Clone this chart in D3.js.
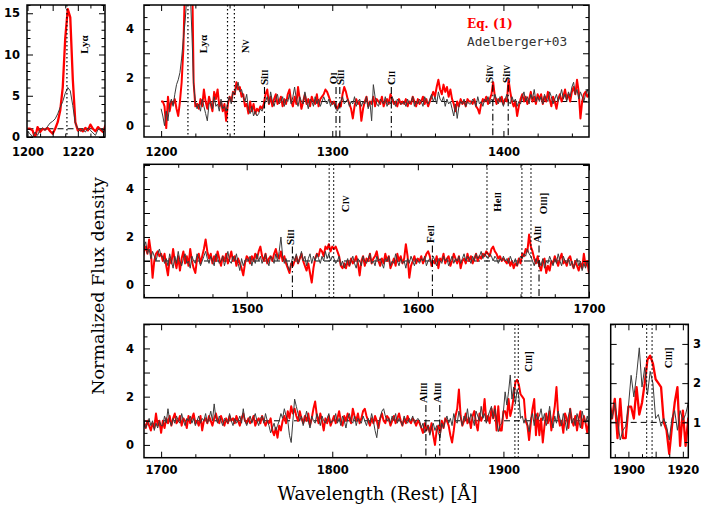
<!DOCTYPE html>
<html><head><meta charset="utf-8">
<script src="https://cdn.jsdelivr.net/npm/d3@7"></script>
<style>body{margin:0;background:#fff}svg{display:block}</style>
</head><body>
<script>
// ---------- DATA ----------
// Composite spectra sampled every 1 Å
const startA = 1200, startB = 1451, startC = 1701;
const redA = [
1.0,1.0,0.8,-0.1,1.2,0.6,1.0,0.9,1.1,0.7,
0.4,1.0,1.8,3.2,6.0,12.0,15.5,14.5,7.0,1.8,
0.8,
0.9,0.7,1.1,0.8,1.5,1.0,0.7,1.2,0.9,0.6,
1.4,1.1,1.5,0.8,1.0,0.6,0.9,0.2,0.9,1.2,
1.0,1.4,1.3,1.8,1.5,1.6,1.2,1.3,0.8,0.9,
0.5,1.0,0.6,0.9,0.5,0.7,0.6,0.8,0.7,0.9,
1.3,1.5,0.9,1.2,0.8,1.1,1.3,0.9,1.0,1.2,
0.8,1.1,0.9,1.3,1.5,1.0,0.8,1.2,0.9,1.6,
1.1,0.7,1.0,1.3,0.9,1.1,0.8,1.2,1.0,0.9,
1.3,0.8,1.1,1.2,1.3,1.5,1.4,1.2,1.0,0.9,
1.0,0.8,0.7,0.9,0.8,1.3,1.6,1.4,1.1,0.9,
0.7,0.3,0.8,1.1,0.9,1.0,0.2,0.7,1.0,1.2,
0.8,1.0,0.9,1.2,0.8,1.1,1.0,0.9,1.2,0.8,
1.0,1.1,0.9,1.3,1.1,0.9,1.0,0.8,1.1,0.9,
1.0,0.9,1.1,0.8,1.0,0.9,1.2,1.0,0.8,1.1,
0.9,1.0,1.2,0.9,1.1,0.8,1.0,1.2,1.4,1.2,
1.6,1.9,1.5,1.3,1.7,1.4,1.6,1.2,1.5,1.1,
0.9,0.6,1.0,0.8,1.1,0.9,1.0,0.8,1.1,1.0,
1.0,0.9,1.1,0.8,0.7,0.5,0.9,1.1,1.0,1.2,
0.9,1.1,1.3,1.8,1.2,0.9,1.1,1.0,1.2,0.9,
1.1,1.0,1.9,1.4,1.0,0.8,1.0,0.4,0.8,1.1,
1.3,1.0,1.2,0.9,1.1,1.4,1.0,1.2,0.9,1.3,
1.1,1.3,0.9,1.2,1.0,1.4,1.1,0.8,1.2,1.0,
0.7,1.1,1.3,1.0,1.2,1.5,1.1,1.3,1.0,1.4,
1.6,1.3,1.9,1.4,0.3,1.0,1.3,1.4,1.2,1.3];
const grayA = [
0.7,0.4,0.0,0.6,0.2,0.9,1.1,0.8,1.3,1.7,
1.9,2.2,2.8,3.6,4.3,5.3,6.0,5.6,3.8,1.7,
1.0,
0.7,0.9,0.6,1.1,0.8,0.5,0.2,0.9,1.0,0.7,
1.2,0.8,0.9,0.6,1.1,0.7,0.8,0.6,1.0,1.2,
0.9,1.4,1.3,1.6,1.8,1.4,1.5,1.2,1.0,1.3,
0.7,0.5,0.8,0.4,0.6,0.4,0.5,0.7,0.6,0.8,
1.0,1.2,0.9,1.4,1.0,0.8,1.1,1.3,0.9,1.0,
1.2,0.8,1.1,1.0,1.3,0.9,1.2,1.6,1.1,0.8,
1.2,1.0,0.9,1.4,1.0,0.7,1.1,1.0,0.8,1.2,
0.9,1.1,0.8,1.0,1.2,1.0,0.9,1.1,0.8,1.0,
0.9,0.7,0.6,0.8,1.0,1.2,0.9,1.0,1.1,0.8,
1.0,0.9,1.2,0.8,1.0,1.1,0.8,1.0,0.9,1.2,
0.7,1.0,0.2,1.7,1.2,0.9,0.8,1.1,1.0,0.9,
1.2,0.8,1.0,0.9,1.2,1.0,0.8,1.1,1.0,0.9,
0.9,1.0,0.8,1.1,0.9,1.0,1.2,0.8,1.0,0.9,
1.1,1.0,0.8,1.2,1.0,0.9,1.1,1.3,1.0,1.2,
0.9,1.4,1.1,1.0,1.2,0.8,1.1,0.9,1.0,0.7,
0.4,0.9,0.3,0.8,1.0,0.9,1.1,0.8,1.0,0.9,
0.9,1.1,1.0,0.8,1.2,0.9,1.0,0.8,1.1,1.0,
1.2,0.9,1.1,1.0,1.3,1.1,0.9,1.2,1.0,0.8,
1.1,1.3,1.0,0.9,1.2,1.0,1.1,0.8,1.0,0.9,
1.2,1.4,1.0,1.2,0.9,1.3,1.1,1.5,1.0,1.2,
1.0,1.2,0.9,1.3,1.1,1.0,1.4,1.2,0.9,1.1,
1.3,1.0,1.2,1.5,1.1,1.3,1.0,1.4,1.2,1.6,
1.8,1.3,1.5,1.1,1.4,1.2,1.0,1.3,1.5,1.2];
const redB = [
1.0,1.3,0.8,0.4,1.1,0.9,1.5,1.0,0.7,1.2,
0.6,1.1,1.4,0.9,1.2,0.8,1.5,1.0,0.7,0.5,
1.1,1.3,0.9,1.2,1.5,1.9,1.4,1.1,1.3,0.9,
1.2,1.0,1.4,1.1,0.8,1.2,1.0,1.3,0.9,1.1,
1.4,1.0,1.2,0.8,1.1,0.9,0.7,0.4,0.9,1.2,
1.1,0.9,1.2,1.0,1.3,1.1,1.4,1.6,1.2,1.0,
1.3,0.9,1.1,1.2,1.0,1.3,1.5,1.2,1.1,1.4,
1.0,1.2,0.9,0.7,0.5,0.9,0.8,1.0,1.2,0.9,
1.1,1.3,1.0,0.8,0.6,0.9,0.5,0.1,0.7,1.1,
1.3,1.2,1.5,1.4,1.2,1.6,1.5,1.7,1.4,1.6,
1.5,1.6,1.4,1.2,0.8,0.7,0.9,0.7,1.0,0.8,
1.1,0.9,1.0,1.2,0.9,0.4,1.0,1.2,0.8,1.1,
1.0,1.3,0.9,1.1,1.2,1.4,1.0,0.8,1.1,0.9,
1.3,1.0,1.2,0.7,0.9,1.1,0.8,1.3,1.0,1.2,
0.9,1.1,1.7,1.2,0.3,0.8,1.0,1.2,0.9,1.1,
1.0,1.2,0.9,1.1,1.3,1.4,1.2,0.8,1.0,0.9,
1.2,0.7,1.1,1.0,1.3,0.9,1.1,1.2,0.8,1.0,
1.3,1.1,0.9,1.2,0.7,1.0,1.1,0.9,1.3,1.0,
1.2,0.9,1.1,1.3,1.0,1.2,1.1,1.3,1.2,1.4,
1.3,1.2,1.5,1.6,1.4,1.3,1.1,1.2,1.0,1.1,
1.0,0.9,1.1,0.8,1.0,0.7,0.9,0.8,1.1,0.9,
1.3,1.2,1.5,1.4,2.1,1.6,1.4,1.1,0.9,1.2,
0.8,0.6,1.0,1.1,0.5,0.8,0.6,1.0,0.9,1.2,
1.0,0.8,1.1,1.3,0.9,1.0,0.8,1.1,1.2,0.9,
0.7,1.0,0.8,0.6,0.9,0.7,1.3,0.8,1.0,0.5];
const grayB = [
1.2,0.9,1.1,0.8,1.3,1.0,0.7,1.2,0.9,1.4,
1.0,0.8,1.1,1.3,0.9,1.0,0.7,1.2,1.0,0.9,
1.3,1.1,0.8,1.0,1.2,1.4,1.1,0.9,1.2,1.0,
0.8,1.3,1.1,0.9,1.0,1.2,0.8,1.1,1.4,1.0,
0.9,1.2,1.0,1.3,0.9,0.6,1.1,0.8,1.0,1.1,
1.0,1.2,0.8,1.1,0.9,1.3,1.0,1.2,0.9,1.1,
1.3,1.0,0.8,1.2,1.1,0.9,1.3,1.0,1.4,2.0,
1.2,0.9,1.1,0.8,0.6,0.9,1.2,1.0,1.3,0.9,
1.1,1.4,1.0,1.2,0.8,1.1,1.3,0.9,1.2,1.0,
1.3,1.1,0.9,1.2,1.0,1.4,1.1,1.3,1.0,1.2,
1.1,0.9,1.0,1.2,0.8,1.0,0.7,0.9,1.1,0.8,
1.0,1.2,0.9,0.7,1.1,1.0,0.8,1.2,1.0,0.9,
1.1,1.3,0.9,1.0,0.8,1.2,1.0,1.1,0.9,0.7,
1.1,1.0,1.2,0.8,1.0,0.9,1.3,1.0,0.8,1.1,
0.9,1.0,0.7,1.1,0.9,1.2,1.0,0.8,1.1,1.0,
0.9,1.1,1.0,1.2,0.8,1.0,1.1,0.9,1.2,1.0,
0.8,1.1,1.0,0.9,1.2,1.0,1.1,0.8,1.0,1.2,
0.9,1.1,1.0,1.2,0.9,1.1,1.3,1.0,1.2,1.1,
0.9,1.2,1.0,1.3,1.1,1.2,1.4,1.1,1.3,1.2,
1.1,1.3,1.2,1.0,1.2,1.1,0.9,1.1,1.0,1.2,
1.0,1.1,0.9,1.2,1.0,0.9,1.1,0.8,1.0,1.2,
1.1,1.3,1.2,1.5,1.3,1.2,1.0,0.8,1.1,0.9,
1.0,0.8,1.1,0.7,1.0,0.9,1.2,1.0,0.8,1.1,
0.9,1.3,1.0,0.8,1.2,1.0,0.9,1.1,0.8,1.0,
0.7,0.9,1.1,0.8,1.0,0.6,0.9,0.7,1.0,0.8];
const redC = [
1.0,0.7,1.1,0.9,1.2,0.8,1.1,1.3,0.9,1.0,
1.2,0.8,1.1,1.0,0.7,1.2,0.9,1.1,1.3,0.9,
1.0,0.8,1.2,0.6,1.0,1.1,0.9,1.2,1.0,0.8,
1.1,1.3,1.0,0.9,1.2,1.0,0.8,1.1,0.9,1.2,
1.0,1.1,0.9,1.2,1.0,0.8,1.1,1.3,1.0,0.9,
1.1,0.9,1.0,1.2,0.8,1.0,1.1,0.9,1.2,1.0,
0.8,1.0,0.9,1.1,0.6,0.4,0.7,0.3,0.8,0.6,
1.0,1.2,0.9,1.4,1.1,1.6,1.3,1.5,1.2,1.0,
1.4,1.1,0.9,1.2,1.0,1.3,0.8,1.1,1.5,1.8,
1.2,0.9,1.3,1.0,0.6,1.1,0.9,1.2,0.8,1.0,
1.2,0.9,1.1,1.4,1.0,0.8,1.2,1.0,1.3,1.1,
0.9,1.5,1.2,1.0,1.3,0.9,1.1,1.4,1.5,1.2,
1.0,0.8,1.1,0.9,1.2,1.0,0.7,1.1,1.3,1.0,
0.9,1.2,1.1,0.8,1.0,1.2,0.9,1.1,1.3,1.0,
0.8,1.1,0.9,1.2,1.0,0.9,1.1,1.0,0.8,1.0,
0.9,0.7,0.5,0.9,0.6,0.8,0.5,0.9,0.4,0.0,
0.6,0.8,0.5,1.0,0.7,1.1,1.0,0.8,0.4,0.1,
0.6,1.2,1.5,2.3,1.2,0.8,1.0,1.3,0.9,1.1,
0.7,1.2,1.4,0.9,0.6,1.3,1.0,1.2,1.9,1.0,
1.2,0.9,
1.5,1.1,1.6,0.6,1.6,0.6,0.6,1.4,1.4,1.1,
1.9,1.2,1.5,2.0,2.6,2.7,2.5,2.1,2.0,1.9,
1.0,0.8,0.2,0.9,1.5,1.9,0.4,1.3,0.4,1.1,
0.1,0.8,1.3,0.9,1.4,0.6,1.1,1.6,2.4,1.2,
0.8,1.0,0.5,1.3,1.1,0.7,1.5,1.0,0.8,1.2,
0.6,1.1,1.4,0.7,1.2,0.9,0.5,1.0];
const grayC = [
0.8,1.2,0.9,1.5,1.0,0.8,1.1,0.9,1.2,1.0,
0.9,1.3,1.0,0.8,1.1,1.0,1.2,0.9,1.1,0.8,
1.0,1.2,0.9,1.1,1.0,1.3,0.9,1.1,1.4,1.0,
1.7,1.1,0.9,1.2,1.0,0.8,1.1,1.0,0.9,1.3,
1.0,0.8,1.1,0.9,1.0,1.2,0.9,1.5,1.0,0.8,
1.0,1.2,0.9,1.1,1.3,1.0,0.8,1.1,1.2,0.9,
1.3,1.0,0.8,0.5,0.7,0.9,0.6,0.8,1.0,1.3,
1.1,1.5,1.2,1.0,0.4,0.1,1.0,1.9,1.6,1.3,
1.0,1.2,0.8,1.1,1.4,1.0,0.7,1.2,1.0,0.9,
1.3,1.1,0.8,1.2,1.0,0.9,1.1,1.3,0.9,1.0,
1.0,1.3,0.9,1.1,0.8,1.2,1.0,0.7,1.1,1.3,
1.0,0.9,1.2,0.8,1.1,1.0,0.9,1.2,1.0,0.8,
1.1,0.9,1.3,1.0,0.6,0.3,0.9,1.1,1.4,1.5,
1.2,1.0,1.1,0.9,1.2,1.0,1.3,0.9,1.1,1.0,
0.8,1.2,1.0,0.9,1.1,1.0,1.2,0.9,1.0,1.1,
1.0,0.7,0.9,0.5,0.6,0.8,0.4,0.7,0.9,0.6,
0.8,0.5,0.3,0.9,0.7,1.0,1.2,0.9,1.1,0.8,
1.3,1.0,0.9,1.4,1.1,0.8,1.2,1.0,1.5,0.9,
1.3,1.1,0.8,1.4,1.2,1.0,1.6,1.1,1.3,0.9,
1.2,1.4,
1.6,1.1,1.5,1.05,0.55,0.8,0.9,1.4,2.2,1.65,
2.2,2.9,1.9,2.4,1.7,2.3,2.0,1.1,1.2,0.9,
1.1,0.9,0.55,1.1,1.3,0.8,1.3,1.05,1.2,1.5,
1.0,1.3,0.8,1.1,1.6,1.0,0.7,1.2,0.9,1.4,
1.1,0.8,1.3,1.0,0.6,1.2,1.5,0.9,1.1,0.8,
1.3,1.0,0.7,1.4,1.1,0.9,1.2,0.8];

// Line identifications (rest wavelengths, Å)
const emissionLines = [1215.67, 1238.8, 1242.8, 1548.2, 1550.8, 1640.4, 1660.8, 1666.1, 1906.7, 1908.7];
const absorptionLines = [1260.4, 1302.2, 1304.4, 1334.5, 1393.8, 1402.8, 1526.7, 1608.5, 1670.8, 1854.7, 1862.8];
const absorptionTop   = [1.6, 1.6, 1.6, 1.6, 1.7, 1.7, 1.6, 1.65, 1.65, 1.65, 1.65];
const labelPanel = ['lya','p1','p1','p1','p1','p1','p1','p1','p1','p2','p2','p2','p2','p2','p2','p3','p3','p3','c3'];
const labelMain  = ['Lyα','Lyα','N','Si','O','Si','C','Si','Si','Si','C','Fe','He','O','Al','Al','Al','C','C'];
const labelIon   = ['','','V','II','I','II','II','IV','IV','II','IV','II','II','III','II','III','III','III','III'];
const labelTail  = ['','','','','','','','','','','','','',']','','','',']',']'];
const labelWave  = [1222.4,1224.6,1249.0,1260.1,1300.6,1304.7,1334.2,1391.8,1401.6,1525.4,1557.5,1607.3,1646.6,1673.2,1669.6,1853.0,1861.2,1914.7,1914.5];
const labelLevel = [10.1,3.0,3.0,1.68,1.72,1.68,1.68,1.77,1.77,1.67,3.03,1.75,3.05,2.95,1.75,1.74,1.74,3.02,2.38];
const legendNames = ['Eq. (1)', 'Adelberger+03'];

// ---------- BUILD ----------
function toPts(start, arr){ return arr.map((v,i)=>({w:start+i, v:v})); }
const redSpec  = toPts(startA, redA).concat(toPts(startB, redB), toPts(startC, redC));
const graySpec = toPts(startA, grayA).concat(toPts(startB, grayB), toPts(startC, grayC));

const svg = d3.select('body').append('svg').attr('width',706).attr('height',506);

const panels = [
 {id:'lya', x0:27, x1:105, y0:5, y1:137, xd:[1199.8,1230.8], yd:[0,16],
  xMinor:5, xMajor:10, xLab:20, yMinor:1, yMajor:5, yLab:5, side:'left', xpad:10.5, ypad:7, lw:2.3},
 {id:'p1', x0:144, x1:589, y0:5, y1:137, xd:[1190,1450], yd:[-0.47,5.0],
  xMinor:20, xMajor:100, xLab:100, yMinor:0.5, yMajor:1, yLab:2, side:'left', xpad:10.5, ypad:10, lw:2},
 {id:'p2', x0:144, x1:589, y0:164.3, y1:297.7, xd:[1440,1700], yd:[-0.53,5.03],
  xMinor:20, xMajor:100, xLab:100, yMinor:0.5, yMajor:1, yLab:2, side:'left', xpad:6.8, ypad:10, lw:2},
 {id:'p3', x0:144, x1:589, y0:324.3, y1:457.7, xd:[1690,1950], yd:[-0.53,5.0],
  xMinor:20, xMajor:100, xLab:100, yMinor:0.5, yMajor:1, yLab:2, side:'left', xpad:7.8, ypad:10, lw:2},
 {id:'c3', x0:610.7, x1:688.3, y0:324.3, y1:457.7, xd:[1893.5,1922], yd:[0.1,3.5],
  xMinor:5, xMajor:10, xLab:20, yMinor:0.5, yMajor:1, yLab:1, side:'right', xpad:7.8, ypad:4.7, lw:2.3}
];

function rng(d, step){ const a=Math.ceil(d[0]/step-1e-9)*step; return d3.range(a, d[1]+1e-9, step).map(v=>+v.toFixed(4)); }
function isMult(v, s){ return Math.abs(v/s - Math.round(v/s)) < 1e-6; }

panels.forEach(P => {
  const x = d3.scaleLinear().domain(P.xd).range([P.x0, P.x1]);
  const y = d3.scaleLinear().domain(P.yd).range([P.y1, P.y0]);
  const g = svg.append('g');
  const cid = 'clip-' + P.id;
  g.append('clipPath').attr('id', cid).append('rect')
    .attr('x', P.x0).attr('y', P.y0).attr('width', P.x1-P.x0).attr('height', P.y1-P.y0);
  const inner = g.append('g').attr('clip-path', `url(#${cid})`);

  // continuum level
  const c0 = Math.max(P.xd[0], 1200);
  inner.append('line').attr('x1', x(c0)).attr('x2', x(P.xd[1])).attr('y1', y(1)).attr('y2', y(1))
    .attr('stroke', '#000').attr('stroke-width', 1).attr('stroke-dasharray', '6,4');

  // spectra
  const line = d3.line().x(d=>x(d.w)).y(d=>y(d.v));
  const inR = d => d.w >= P.xd[0]-2 && d.w <= P.xd[1]+2;
  inner.append('path').datum(redSpec.filter(inR)).attr('d', line)
    .attr('fill','none').attr('stroke','#ff0000').attr('stroke-width',P.lw).attr('stroke-linejoin','round');
  inner.append('path').datum(graySpec.filter(inR)).attr('d', line)
    .attr('fill','none').attr('stroke','#3c3c3c').attr('stroke-width',1).attr('stroke-linejoin','round');

  // emission lines (dotted)
  emissionLines.filter(w => w > P.xd[0] && w < P.xd[1]).forEach(w => {
    inner.append('line').attr('x1', x(w)).attr('x2', x(w)).attr('y1', P.y0).attr('y2', P.y1)
      .attr('stroke','#000').attr('stroke-width',1.2).attr('stroke-dasharray','1.5,2.5');
  });
  // absorption lines (dash-dot)
  absorptionLines.forEach((w,i) => {
    if (w <= P.xd[0] || w >= P.xd[1] || P.id==='lya' || P.id==='c3') return;
    inner.append('line').attr('x1', x(w)).attr('x2', x(w)).attr('y1', y(absorptionTop[i])).attr('y2', P.y1)
      .attr('stroke','#000').attr('stroke-width',1.1).attr('stroke-dasharray','7,3,1.5,3');
  });

  // line labels
  labelPanel.forEach((p,i) => {
    if (p !== P.id) return;
    const t = g.append('text')
      .attr('transform', `translate(${x(labelWave[i])},${y(labelLevel[i])}) rotate(-90)`)
      .attr('dy','0.35em').attr('font-family','Liberation Serif, serif').attr('font-weight','bold')
      .attr('font-size', 11).attr('fill','#000');
    t.append('tspan').text(labelMain[i]);
    if (labelIon[i]) t.append('tspan').attr('font-size', 8).text(labelIon[i]);
    if (labelTail[i]) t.append('tspan').text(labelTail[i]);
  });

  // frame
  g.append('rect').attr('x', P.x0).attr('y', P.y0).attr('width', P.x1-P.x0).attr('height', P.y1-P.y0)
    .attr('fill','none').attr('stroke','#000').attr('stroke-width',1.5);

  // axes (inward ticks)
  function ax(gen, scale, vals, size, fmt, pad, tr){
    const a = gen(scale).tickValues(vals).tickSize(size).tickPadding(pad).tickFormat(fmt);
    const ag = g.append('g').attr('transform', tr).call(a);
    ag.select('.domain').remove();
    ag.selectAll('line').attr('stroke','#000').attr('stroke-width',1);
    ag.attr('font-family','DejaVu Sans, sans-serif').attr('font-size',11.5).attr('font-weight','bold');
    ag.selectAll('text').attr('fill','#000');
  }
  const xMin = rng(P.xd, P.xMinor).filter(v => !isMult(v, P.xMajor));
  const xMaj = rng(P.xd, P.xMajor);
  const yMin = rng(P.yd, P.yMinor).filter(v => !isMult(v, P.yMajor));
  const yMaj = rng(P.yd, P.yMajor);
  const none = () => '';
  const xfmt = d => isMult(d, P.xLab) ? d3.format('d')(d) : '';
  const yfmt = d => isMult(d, P.yLab) ? d3.format('d')(d) : '';
  ax(d3.axisBottom, x, xMin, -3.5, none, 0, `translate(0,${P.y1})`);
  ax(d3.axisBottom, x, xMaj, -6, xfmt, P.xpad, `translate(0,${P.y1})`);
  ax(d3.axisTop, x, xMin, -3.5, none, 0, `translate(0,${P.y0})`);
  ax(d3.axisTop, x, xMaj, -6, none, 0, `translate(0,${P.y0})`);
  ax(d3.axisLeft, y, yMin, -3.5, none, 0, `translate(${P.x0},0)`);
  ax(d3.axisLeft, y, yMaj, -6, P.side==='left' ? yfmt : none, P.ypad, `translate(${P.x0},0)`);
  ax(d3.axisRight, y, yMin, -3.5, none, 0, `translate(${P.x1},0)`);
  ax(d3.axisRight, y, yMaj, -6, P.side==='right' ? yfmt : none, P.ypad, `translate(${P.x1},0)`);
});

// legend
svg.append('text').attr('x',467).attr('y',28).attr('font-family','DejaVu Serif, serif')
  .attr('font-weight','bold').attr('font-size',12).attr('fill','#ff0000').text(legendNames[0]);
svg.append('text').attr('x',467).attr('y',46).attr('font-family','DejaVu Sans Mono, monospace')
  .attr('font-size',12.8).attr('fill','#333').text(legendNames[1]);

// axis titles
svg.append('text').attr('transform','translate(104,286) rotate(-90)').attr('text-anchor','middle')
  .attr('font-family','DejaVu Serif, serif').attr('font-size',17.5).attr('fill','#000')
  .text('Normalized Flux density');
svg.append('text').attr('x',377.5).attr('y',500).attr('text-anchor','middle')
  .attr('font-family','DejaVu Serif, serif').attr('font-size',18).attr('fill','#000')
  .text('Wavelength (Rest) [Å]');
</script>
</body></html>
